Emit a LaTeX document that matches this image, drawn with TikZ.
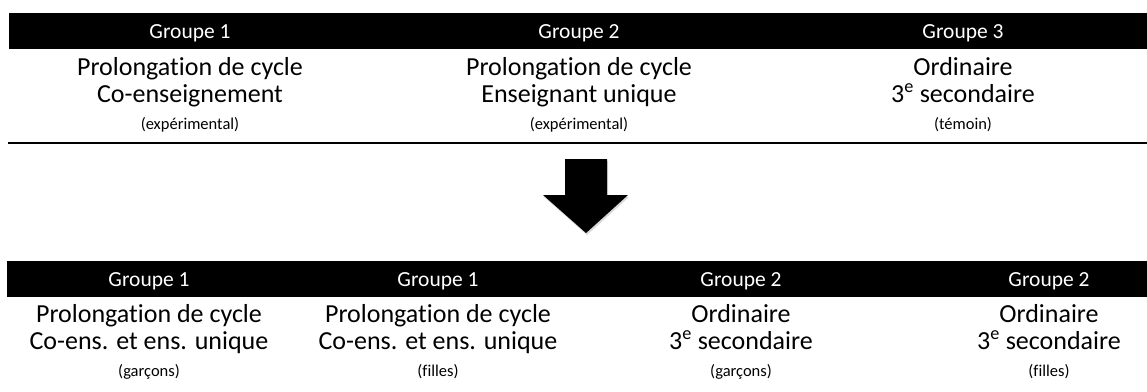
\documentclass[tikz,border=0pt]{standalone}
\usepackage{fontspec}
\setmainfont{Carlito}[Ligatures=NoCommon]
\usetikzlibrary{shadows}
\begin{document}
\begin{tikzpicture}[x=1pt,y=-1pt,
    groupbar/.style={fill=black},
    head/.style={anchor=base,text=white,font=\fontsize{21.5}{24}\selectfont},
    line/.style={anchor=base,font=\fontsize{26}{30}\selectfont},
    note/.style={anchor=base,font=\fontsize{16.5}{20}\selectfont}]
        \useasboundingbox (0,0) rectangle (1147,391);
        %% Before: three groups
        \fill[groupbar] (9,13) rectangle (1147,49);
        \node[head] (ta) at (190,38) {Groupe 1};
        \node[head] (tb) at (579,38) {Groupe 2};
        \node[head] (tc) at (963,38) {Groupe 3};
        \node[line] (ta1) at (190,75) {Prolongation de cycle};
        \node[line] (ta2) at (190,102) {Co-enseignement};
        \node[note] (ta3) at (190,129) {(expérimental)};
        \node[line] (tb1) at (579,75) {Prolongation de cycle};
        \node[line] (tb2) at (579,102) {Enseignant unique};
        \node[note] (tb3) at (579,129) {(expérimental)};
        \node[line] (tc1) at (963,75) {Ordinaire};
        \node[line] (tc2) at (963,102) {3\textsuperscript{e} secondaire};
        \node[note] (tc3) at (963,129) {(témoin)};
        \draw[line width=2pt] (8,143) -- (1147,143);
        %% Arrow
        \fill[drop shadow={shadow xshift=1pt,shadow yshift=-2pt,opacity=0.3}]
            (565,159) -- (607,159) -- (607,195) -- (628,195) -- (586,233)
            -- (543,195) -- (565,195) -- cycle;
        %% After: four groups
        \fill[groupbar] (7,261) rectangle (1147,297);
        \node[head] (ba) at (149,286) {Groupe 1};
        \node[head] (bb) at (438,286) {Groupe 1};
        \node[head] (bc) at (741,286) {Groupe 2};
        \node[head] (bd) at (1049,286) {Groupe 2};
        \node[line] (ba1) at (149,322) {Prolongation de cycle};
        \node[line] (ba2) at (149,349) {Co-ens. et ens. unique};
        \node[note] (ba3) at (149,376) {(garçons)};
        \node[line] (bb1) at (438,322) {Prolongation de cycle};
        \node[line] (bb2) at (438,349) {Co-ens. et ens. unique};
        \node[note] (bb3) at (438,376) {(filles)};
        \node[line] (bc1) at (741,322) {Ordinaire};
        \node[line] (bc2) at (741,349) {3\textsuperscript{e} secondaire};
        \node[note] (bc3) at (741,376) {(garçons)};
        \node[line] (bd1) at (1049,322) {Ordinaire};
        \node[line] (bd2) at (1049,349) {3\textsuperscript{e} secondaire};
        \node[note] (bd3) at (1049,376) {(filles)};
    \end{tikzpicture}
\end{document}
